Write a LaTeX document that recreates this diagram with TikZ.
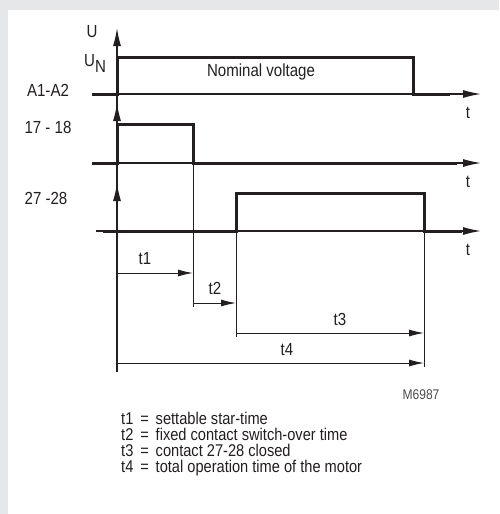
\documentclass[tikz,border=0pt]{standalone}
\usepackage{fontspec}
\setmainfont{Liberation Sans}[FakeStretch=0.86]
\usepackage{tikz}
\usetikzlibrary{arrows.meta}
\definecolor{frame}{HTML}{E6E7E9}
\definecolor{ink}{HTML}{231F20}

\begin{document}
\begin{tikzpicture}[x=1pt,y=-1pt,ink,text=ink,
  sig/.style={line width=3pt,line join=miter},
  tline/.style={line width=1.3pt,-{Latex[length=18pt,width=8pt]}},
  dimln/.style={line width=1pt,-{Latex[length=15pt,width=7pt]}},
  lbl/.style={font=\fontsize{17.5}{17.5}\selectfont,inner sep=0pt}]
\fill[frame] (0,0) rectangle (499,514);
\fill[white] (8,10) rectangle (499,514);
\useasboundingbox (0,0) rectangle (499,514);
% time axes
\foreach \y/\s/\n in {94/92/1,163/92/2,231/96/3} {
   \draw[tline] (\s,\y) -- (481,\y);
   \node[lbl] (t\n) at (468,\y+19) {t};
}
% vertical axis with its three arrow heads
\draw[line width=1.3pt] (117,372) -- (117,40);
\foreach \y in {28,103,183} {
   \draw[tline] (117,\y+30) -- (117,\y);
}
% switching instants
\draw[line width=1pt] (193,124) -- (193,307);
\draw[line width=1pt] (236,193) -- (236,337);
\draw[line width=1pt] (424,193) -- (424,367);
% signals
\draw[sig] (92,94) -- (117,94) |- (413,57) |- (450,94);
\draw[sig] (92,163) -- (117,163) |- (193,124) |- (457,163);
\draw[sig] (103,231) -- (236,231) |- (424,193) |- (462,231);
\node[lbl] (nom) at (261,72) {Nominal voltage};
% signal names
\node[lbl] (u) at (92,32) {U};
\node[lbl] (un) at (95,63) {U\raisebox{-6pt}{N}};
\node[lbl] (a1a2) at (48,90) {A1-A2};
\node[lbl] (k1718) at (48,127) {17 - 18};
\node[lbl] (k2728) at (46,198) {27 -28};
% times
\coordinate (d1a) at (117,273); \coordinate (d1b) at (193,273);
\coordinate (d2a) at (193,303); \coordinate (d2b) at (236,303);
\coordinate (d3a) at (236,333); \coordinate (d3b) at (424,333);
\coordinate (d4a) at (117,363); \coordinate (d4b) at (424,363);
\foreach \i in {1,...,4} {
   \draw[dimln] (d\i a) -- (d\i b);
}
\node[lbl] (l1) at (145,259) {t1};
\node[lbl] (l2) at (215,288) {t2};
\node[lbl] (l3) at (340,319) {t3};
\node[lbl] (l4) at (287,350) {t4};
% code and key
\node[lbl,font=\fontsize{14}{14}\selectfont,text=black!70] (code) at (421,395) {M6987};
\node[lbl,anchor=north west,align=left,font=\fontsize{17}{16}\selectfont] (key) at (121,412)
  {t1 \,=\, settable star-time\\
   t2 \,=\, fixed contact switch-over time\\
   t3 \,=\, contact 27-28 closed\\
   t4 \,=\, total operation time of the motor};
\end{tikzpicture}
\end{document}
